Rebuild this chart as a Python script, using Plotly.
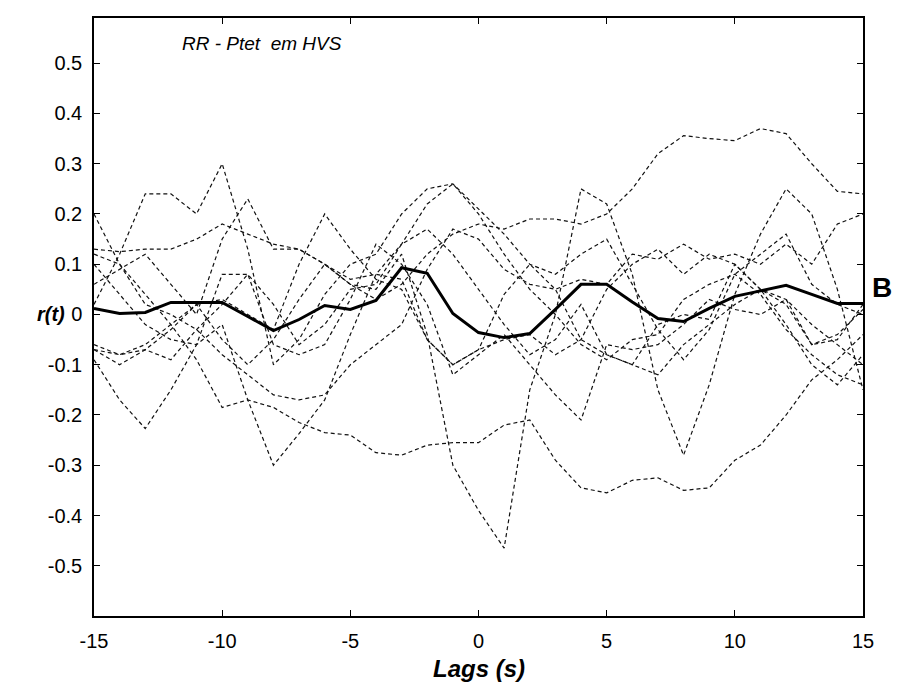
import plotly.graph_objects as go

# Lags (s) de -15 a 15
lags = list(range(-15, 16))

# Correlaciones individuales (líneas discontinuas)
serie_1 = [0.20, 0.10, 0.04, -0.02, -0.09, -0.185, -0.17, -0.185, -0.215, -0.235, -0.24, -0.275, -0.28, -0.26, -0.255, -0.255,
           -0.22, -0.21, -0.29, -0.345, -0.355, -0.33, -0.325, -0.35, -0.345, -0.29, -0.26, -0.20, -0.13, -0.09, -0.04]
serie_2 = [-0.09, -0.17, -0.227, -0.15, -0.06, 0.08, 0.08, 0.02, -0.06, -0.02, 0.05, 0.06, 0.14, 0.17, 0.12, 0.05,
           -0.02, -0.08, -0.05, 0.02, -0.08, -0.10, -0.12, -0.06, -0.02, 0.02, 0.05, -0.02, -0.10, -0.14, -0.08]
serie_3 = [0.02, 0.12, 0.24, 0.24, 0.20, 0.30, 0.13, -0.10, -0.05, 0.04, 0.10, 0.12, 0.20, 0.25, 0.26, 0.21,
           0.16, 0.10, 0.08, 0.12, 0.15, 0.06, -0.03, -0.09, -0.03, 0.08, 0.12, 0.16, 0.06, 0.02, 0.00]
serie_4 = [0.13, 0.125, 0.13, 0.13, 0.15, 0.18, 0.16, 0.14, 0.13, 0.10, 0.06, 0.03, 0.06, 0.12, 0.16, 0.18,
           0.17, 0.19, 0.19, 0.18, 0.20, 0.25, 0.32, 0.356, 0.35, 0.346, 0.37, 0.36, 0.30, 0.245, 0.24]
serie_5 = [-0.07, -0.10, -0.07, -0.03, 0.02, -0.05, -0.10, -0.05, 0.03, 0.10, 0.06, 0.05, 0.12, -0.04, -0.30, -0.39,
           -0.465, -0.15, 0.00, 0.25, 0.22, 0.08, -0.15, -0.28, -0.14, 0.04, 0.16, 0.25, 0.20, 0.05, -0.15]
serie_6 = [0.10, 0.04, -0.02, -0.05, -0.06, -0.02, -0.17, -0.30, -0.237, -0.17, -0.04, 0.08, 0.14, 0.22, 0.26, 0.20,
           0.12, 0.05, 0.00, -0.06, -0.09, -0.05, -0.04, 0.03, 0.06, 0.08, 0.04, -0.03, -0.08, -0.12, -0.14]
serie_7 = [-0.06, -0.08, -0.06, -0.02, 0.02, 0.03, 0.00, -0.03, 0.10, 0.20, 0.13, 0.07, 0.05, -0.05, -0.10, -0.07,
           -0.05, -0.04, -0.08, -0.05, 0.05, 0.10, 0.13, 0.08, 0.12, 0.10, 0.05, 0.02, -0.06, -0.05, 0.02]
serie_8 = [0.06, 0.09, 0.12, 0.06, 0.00, 0.15, 0.23, 0.13, 0.13, 0.10, 0.07, 0.08, 0.07, -0.05, -0.10, -0.07,
           0.04, 0.10, 0.05, -0.05, -0.08, -0.10, -0.02, 0.00, -0.01, 0.10, 0.05, 0.03, -0.02, -0.06, -0.10]
serie_9 = [-0.07, -0.08, -0.07, -0.09, -0.03, 0.02, 0.08, -0.06, -0.08, -0.06, 0.03, 0.14, 0.10, 0.02, -0.12, -0.08,
           -0.04, -0.10, -0.16, -0.21, -0.06, -0.07, -0.06, -0.02, 0.03, 0.01, 0.00, 0.03, -0.06, -0.04, 0.01]
serie_10 = [0.12, 0.10, 0.02, 0.00, -0.03, -0.08, -0.12, -0.16, -0.17, -0.16, -0.10, -0.06, -0.02, 0.09, 0.17, 0.15,
            0.09, 0.06, 0.05, 0.07, 0.06, 0.12, 0.11, 0.14, 0.11, 0.12, 0.10, 0.14, 0.10, 0.18, 0.20]

# Media (línea gruesa)
media = [0.012, 0.002, 0.004, 0.024, 0.024, 0.024, -0.004, -0.032, -0.01, 0.018, 0.01, 0.028, 0.093, 0.082, 0.002, -0.036,
         -0.046, -0.038, 0.01, 0.06, 0.06, 0.025, -0.008, -0.014, 0.012, 0.036, 0.047, 0.058, 0.04, 0.022, 0.022]

series = [serie_1, serie_2, serie_3, serie_4, serie_5, serie_6, serie_7, serie_8, serie_9, serie_10]

x_ticks = [-15, -10, -5, 0, 5, 10, 15]
x_labels = ["-15", "-10", "-5", "0", "5", "10", "15"]
y_ticks = [0.5, 0.4, 0.3, 0.2, 0.1, 0, -0.1, -0.2, -0.3, -0.4, -0.5]
y_labels = ["0.5", "0.4", "0.3", "0.2", "0.1", "0", "-0.1", "-0.2", "-0.3", "-0.4", "-0.5"]

fig = go.Figure()
for s in series:
    fig.add_trace(go.Scatter(x=lags, y=s, mode="lines", showlegend=False,
                             line=dict(color="#111", width=1.2, dash="4px,3px")))
fig.add_trace(go.Scatter(x=lags, y=media, mode="lines", showlegend=False,
                         line=dict(color="black", width=3)))

font = "Liberation Sans Narrow, Arial Narrow, Liberation Sans, Arial, sans-serif"
eje = dict(ticks="inside", ticklen=6, tickcolor="black", showline=True, linecolor="black",
           linewidth=1.5, mirror="ticks", showgrid=False, zeroline=False, automargin=False,
           tickfont=dict(size=20, family=font))
# la página añade 8 px de margen al body: la figura se ajusta a 899x680
fig.update_layout(
    width=899, height=680,
    plot_bgcolor="white", paper_bgcolor="white",
    margin=dict(l=86, r=44, t=10, b=72),
    font=dict(family=font, size=20, color="black"),
    xaxis=dict(range=[-15, 15], tickvals=x_ticks, ticktext=x_labels, ticklabelstandoff=6, **eje),
    yaxis=dict(range=[-0.6, 0.59], tickvals=y_ticks, ticktext=y_labels, ticklabelstandoff=6, **eje),
    annotations=[
        dict(text="<i>RR - Ptet  em HVS</i>", x=0.218, y=0.958, xref="paper", yref="paper",
             xanchor="center", yanchor="middle", showarrow=False, font=dict(size=19)),
        dict(text="<b><i>Lags (s)</i></b>", x=0.5, y=-0.087, xref="paper", yref="paper",
             xanchor="center", yanchor="middle", showarrow=False, font=dict(size=24)),
        dict(text="<b><i>r(t)</i></b>", x=-0.056, y=0.505, xref="paper", yref="paper",
             xanchor="center", yanchor="middle", showarrow=False, font=dict(size=20)),
        dict(text="<b>B</b>", x=1.025, y=0.55, xref="paper", yref="paper",
             xanchor="center", yanchor="middle", showarrow=False,
             font=dict(size=28, family="Liberation Sans, Arial, sans-serif")),
    ],
)

fig.write_html("out.html")
